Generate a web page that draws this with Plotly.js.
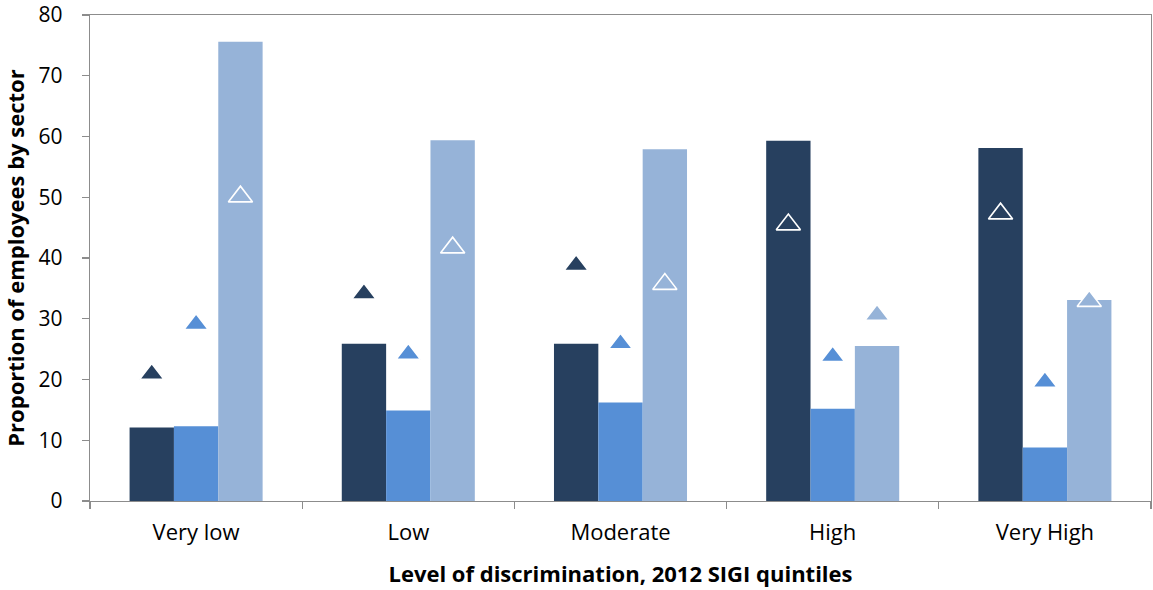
<!DOCTYPE html>
<html>
<head>
<meta charset="utf-8">
<script src="https://cdn.plot.ly/plotly-3.0.1.min.js"></script>
<style>
  html, body { margin: 0; padding: 0; background: #ffffff; }
  #chart { width: 1153px; height: 590px; }
</style>
</head>
<body>
<div id="chart"></div>
<script>
// SIGI quintiles of discrimination
const categories = ["Very low", "Low", "Moderate", "High", "Very High"];

// Bars: share of employees by sector
const agricultureBars = [12.1, 25.9, 25.9, 59.3, 58.1];
const industryBars    = [12.3, 14.9, 16.2, 15.2, 8.8];
const servicesBars    = [75.6, 59.4, 57.9, 25.5, 33.1];

// Triangles: comparison share by sector
const agricultureMarks = [20.9, 34.1, 38.8, 45.5, 47.3];
const industryMarks    = [29.1, 24.2, 25.9, 23.8, 19.6];
const servicesMarks    = [50.1, 41.7, 35.7, 30.6, 32.9];

const yTicks = [0, 10, 20, 30, 40, 50, 60, 70, 80];

const colDark = "#27405f";
const colMid = "#568fd6";
const colLight = "#96b3d8";
const axisGrey = "#8c8c8c";
const fontFamily = "'Open Sans', Lato, sans-serif";

function barTrace(name, values, color) {
  return {
    type: "bar", name: name, x: categories, y: values,
    marker: { color: color, line: { width: 0 } },
    hoverinfo: "x+y+name"
  };
}
function markTrace(name, values, color) {
  return {
    type: "scatter", mode: "markers", name: name, x: categories, y: values,
    marker: { symbol: "triangle-up", size: 21, color: color,
              line: { color: "#ffffff", width: 1.6 } },
    hoverinfo: "x+y+name"
  };
}

const data = [
  barTrace("Agriculture", agricultureBars, colDark),
  barTrace("Industry", industryBars, colMid),
  barTrace("Services", servicesBars, colLight),
  markTrace("Agriculture (triangles)", agricultureMarks, colDark),
  markTrace("Industry (triangles)", industryMarks, colMid),
  markTrace("Services (triangles)", servicesMarks, colLight)
];

const layout = {
  width: 1153, height: 590,
  margin: { l: 90, r: 2, t: 15, b: 89 },
  paper_bgcolor: "#ffffff", plot_bgcolor: "#ffffff",
  showlegend: false,
  barmode: "group", bargap: 0.373, bargroupgap: 0,
  scattermode: "group", scattergap: 0.373,
  font: { family: fontFamily, color: "#000000", size: 21 },
  xaxis: {
    type: "category",
    tickson: "boundaries",
    ticks: "outside", ticklen: 7, tickcolor: axisGrey, tickwidth: 1.3,
    ticklabelstandoff: 11,
    showline: true, linecolor: axisGrey, linewidth: 1.3, mirror: true,
    showgrid: false, zeroline: false,
    tickfont: { family: fontFamily, size: 22, color: "#000000" },
    title: { text: "<b>Level of discrimination, 2012 SIGI quintiles</b>",
             font: { family: fontFamily, size: 22, color: "#000000" }, standoff: 22 }
  },
  yaxis: {
    range: [0, 80],
    tickmode: "array", tickvals: yTicks, ticktext: yTicks.map(String),
    ticks: "outside", ticklen: 7, tickcolor: axisGrey, tickwidth: 1.3,
    ticklabelstandoff: 15, ticklabeloverflow: "allow",
    showline: true, linecolor: axisGrey, linewidth: 1.3, mirror: true,
    showgrid: false, zeroline: false,
    tickfont: { family: fontFamily, size: 21, color: "#000000" },
    title: { text: "<b>Proportion of employees by sector</b>",
             font: { family: fontFamily, size: 22, color: "#000000" }, standoff: 8 }
  }
};

Plotly.newPlot("chart", data, layout, { displayModeBar: false, staticPlot: true });
</script>
</body>
</html>
